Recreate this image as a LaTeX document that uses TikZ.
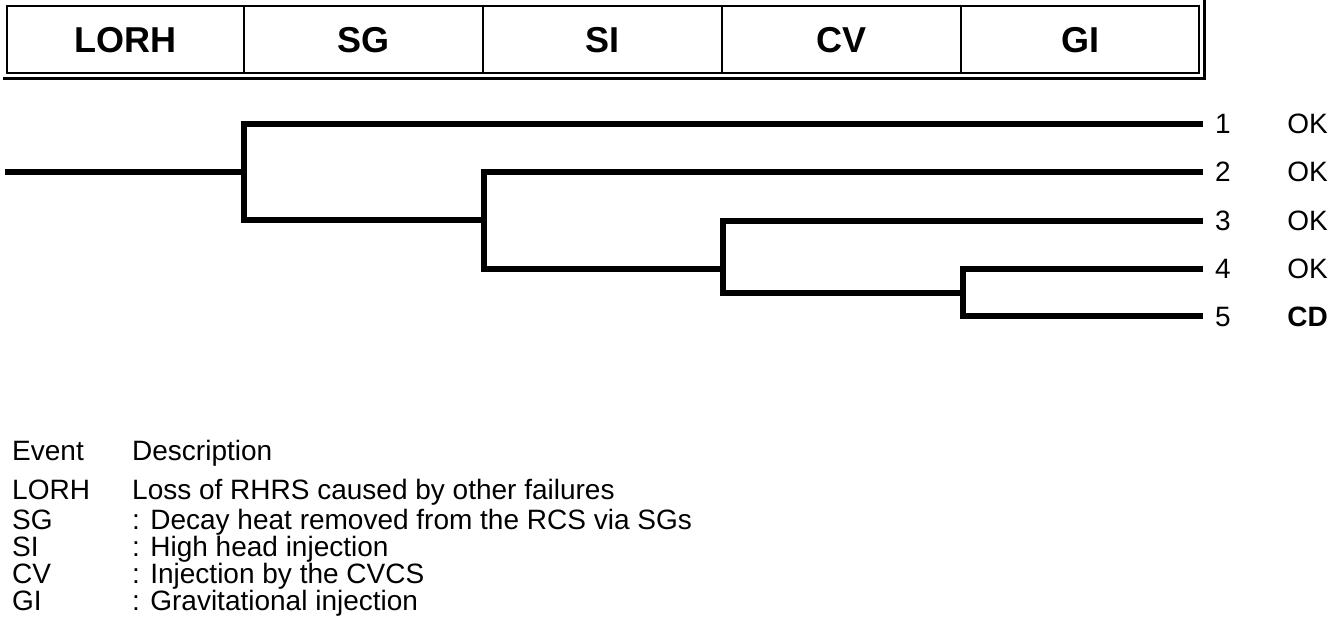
\documentclass[tikz,border=0pt]{standalone}
\usepackage{fontspec}
\setmainfont{Liberation Sans}
\begin{document}
\begin{tikzpicture}[x=1pt,y=-1pt,
  frame/.style={line width=2.5pt},
  divider/.style={line width=2pt},
  cell/.style={font=\fontsize{36}{40}\selectfont\bfseries, anchor=base, inner sep=0pt},
  branch/.style={line width=5.5pt, line join=miter},
  endnum/.style={font=\fontsize{28}{32}\selectfont, anchor=base west, inner sep=0pt},
  endstate/.style={font=\fontsize{28}{32}\selectfont, anchor=base east, inner sep=0pt},
  legend/.style={font=\fontsize{28}{32}\selectfont, anchor=base west, inner sep=0pt}]
\useasboundingbox (0,0) rectangle (1331,631);

% ---- heading row of the event tree ----
\draw[frame] (7,6) rectangle (1199,73);
\draw[frame] (3,78.5) -- (1204.5,78.5) -- (1204.5,0);
\foreach \xd in {244,483,722,961}
  \draw[divider] (\xd,6) -- (\xd,73);
\node[cell] (hLORH) at (125.5,53) {LORH};
\node[cell] (hSG)   at (363.5,53) {SG};
\node[cell] (hSI)   at (602.5,53) {SI};
\node[cell] (hCV)   at (841.5,53) {CV};
\node[cell] (hGI)   at (1080,53)  {GI};

% ---- branch points and sequence ends ----
\coordinate (start) at (5,172);
\coordinate (n1) at (244,172);
\coordinate (n2) at (484,220);
\coordinate (n3) at (723,269);
\coordinate (n4) at (963,293);
\coordinate (e1) at (1203,124);
\coordinate (e2) at (1203,172);
\coordinate (e3) at (1203,221);
\coordinate (e4) at (1203,269);
\coordinate (e5) at (1203,316);

% ---- event tree ----
\draw[branch] (start) -- (n1);
\draw[branch] (e1) -| (n1) |- (n2);
\draw[branch] (e2) -| (n2) |- (n3);
\draw[branch] (e3) -| (n3) |- (n4);
\draw[branch] (e4) -| (n4) |- (e5);

% ---- sequence numbers and end states ----
\node[endnum] (s1) at (1215,134) {1};
\node[endnum] (s2) at (1215,182) {2};
\node[endnum] (s3) at (1215,231) {3};
\node[endnum] (s4) at (1215,279) {4};
\node[endnum] (s5) at (1215,326) {5};
\node[endstate] (o1) at (1328,134) {OK};
\node[endstate] (o2) at (1328,182) {OK};
\node[endstate] (o3) at (1328,231) {OK};
\node[endstate] (o4) at (1328,279) {OK};
\node[endstate,font=\fontsize{28}{32}\selectfont\bfseries] (o5) at (1328,326) {CD};

% ---- legend ----
\node[legend] (lgE)  at (12,460) {Event};
\node[legend] (lgD)  at (132,460) {Description};
\node[legend] (lg1a) at (12,499) {LORH};
\node[legend] (lg1b) at (132,499) {Loss of RHRS caused by other failures};
\node[legend] (lg2a) at (12,529) {SG};
\node[legend] (lg2b) at (132,529) {: Decay heat removed from the RCS via SGs};
\node[legend] (lg3a) at (12,556) {SI};
\node[legend] (lg3b) at (132,556) {: High head injection};
\node[legend] (lg4a) at (12,583) {CV};
\node[legend] (lg4b) at (132,583) {: Injection by the CVCS};
\node[legend] (lg5a) at (12,610) {GI};
\node[legend] (lg5b) at (132,610) {: Gravitational injection};
\end{tikzpicture}
\end{document}
